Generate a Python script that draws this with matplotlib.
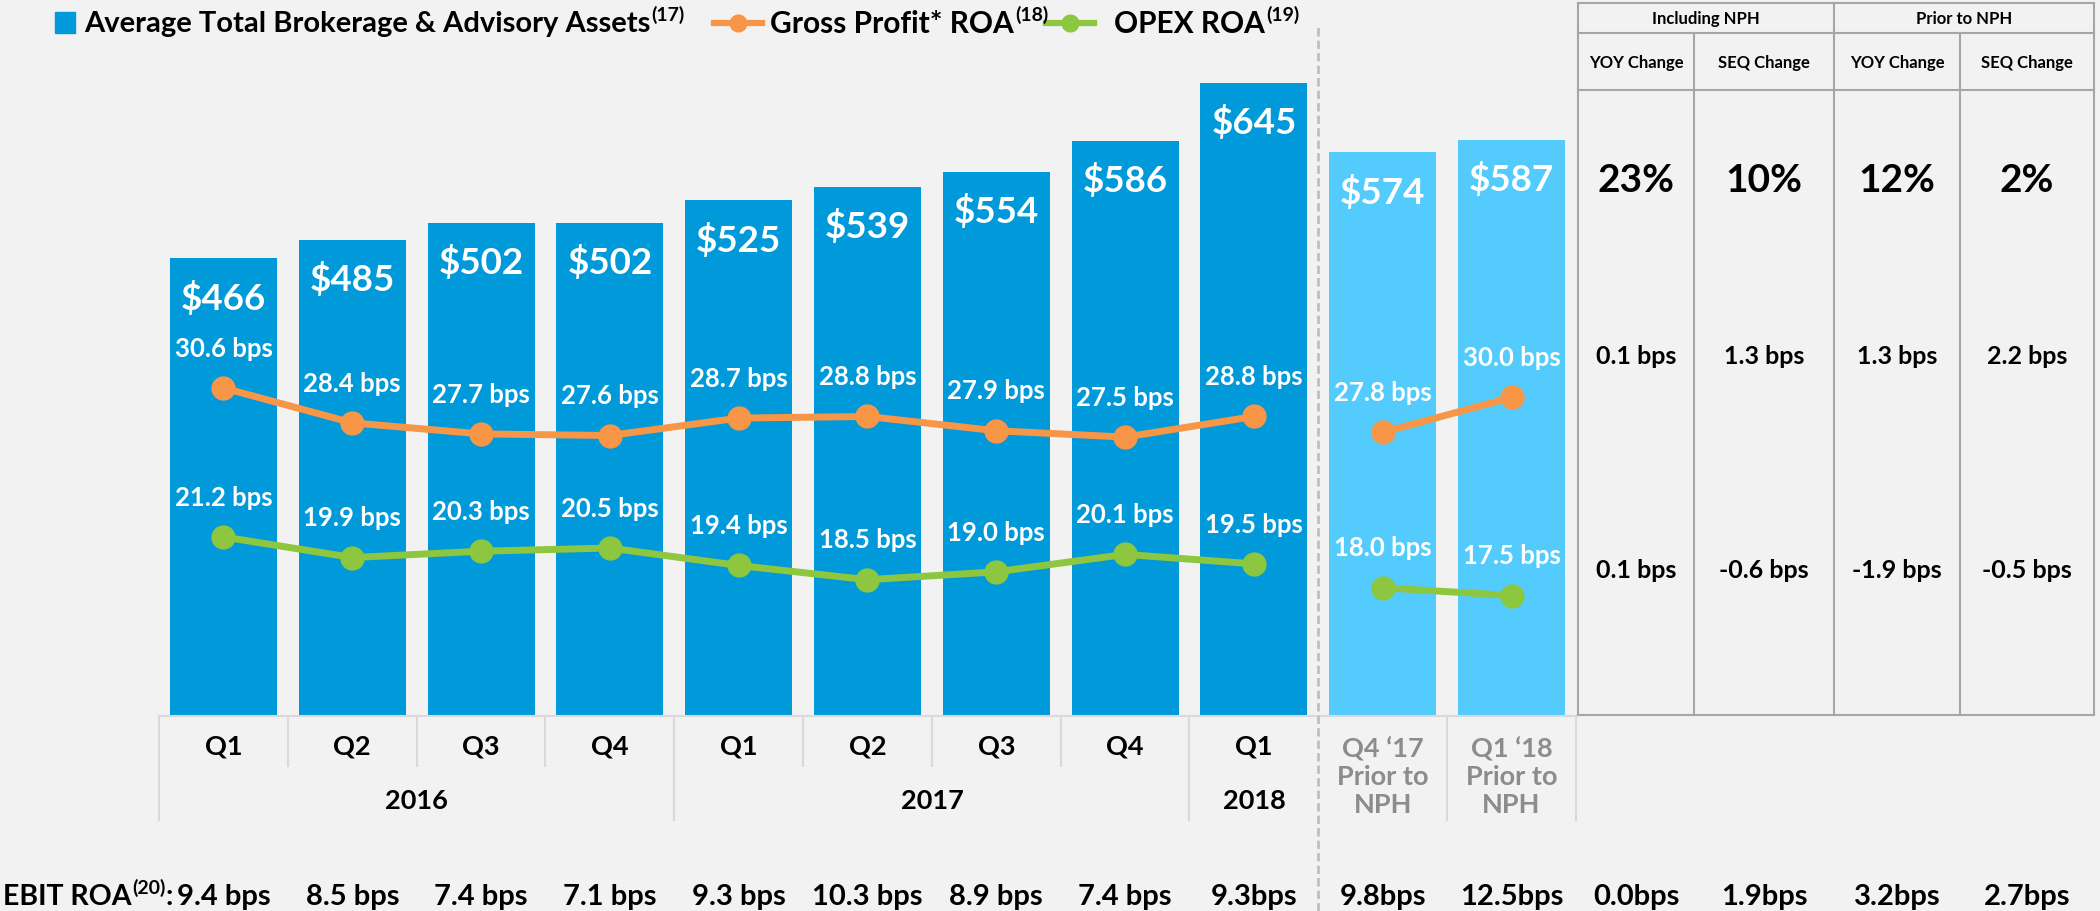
import matplotlib
matplotlib.use('Agg')
import matplotlib.pyplot as plt
import matplotlib.transforms as mtransforms
from matplotlib.lines import Line2D
from matplotlib.patches import Rectangle
import numpy as np

plt.rcParams['font.family'] = ['Lato', 'DejaVu Sans']
plt.rcParams['font.weight'] = 'bold'

W, H, DPI = 2100, 912, 100

# data
quarters = ['Q1', 'Q2', 'Q3', 'Q4', 'Q1', 'Q2', 'Q3', 'Q4', 'Q1']
years = ['2016', '2017', '2018']
year_spans = [(0, 3), (4, 7), (8, 8)]
nph_labels = ['Q4 \u201817\nPrior to\nNPH', 'Q1 \u201818\nPrior to\nNPH']
assets = [466, 485, 502, 502, 525, 539, 554, 586, 645, 574, 587]
gross_roa = [30.6, 28.4, 27.7, 27.6, 28.7, 28.8, 27.9, 27.5, 28.8, 27.8, 30.0]
opex_roa = [21.2, 19.9, 20.3, 20.5, 19.4, 18.5, 19.0, 20.1, 19.5, 18.0, 17.5]
ebit_roa = ['9.4 bps', '8.5 bps', '7.4 bps', '7.1 bps', '9.3 bps', '10.3 bps',
            '8.9 bps', '7.4 bps', '9.3bps', '9.8bps', '12.5bps']

tbl_groups = ['Including NPH', 'Prior to NPH']
tbl_cols = ['YOY Change', 'SEQ Change', 'YOY Change', 'SEQ Change']
chg_assets = ['23%', '10%', '12%', '2%']
chg_gross = ['0.1 bps', '1.3 bps', '1.3 bps', '2.2 bps']
chg_opex = ['0.1 bps', '-0.6 bps', '-1.9 bps', '-0.5 bps']
chg_ebit = ['0.0bps', '1.9bps', '3.2bps', '2.7bps']

# colours
BG = '#F2F2F2'
DARK = '#0099DA'
LIGHT = '#54CBFD'
ORANGE = '#F79646'
GREEN = '#8DC63F'
GRAY_TXT = '#8C8C8C'
SEP = '#D9D9D9'
TBL = '#A6A6A6'


def fx(px):
    return px / W


def fy(py):
    return 1 - py / H


fig = plt.figure(figsize=(W / DPI, H / DPI), dpi=DPI, facecolor=BG)
ax = fig.add_axes([0, 0, 1, 1])
ax.set_xlim(-1.735, 14.569)
ax.set_ylim(-200, 730.6)
ax.axis('off')
ax2 = ax.twinx()
ax2.set_ylim(-2.40, 55.14)
ax2.axis('off')

x = np.arange(len(assets))
n_main = len(quarters)
colors = [DARK] * n_main + [LIGHT] * (len(assets) - n_main)
ax.bar(x, assets, width=0.83, color=colors, zorder=2)

for xi, v in zip(x, assets):
    ax.annotate(f'${v}', (xi, v), xytext=(0, -28), textcoords='offset points',
                ha='center', va='center', color='white', fontsize=26.5, zorder=5)

for seg in (slice(0, n_main), slice(n_main, None)):
    ax2.plot(x[seg], gross_roa[seg], color=ORANGE, lw=5, marker='o', ms=16.5, zorder=4)
    ax2.plot(x[seg], opex_roa[seg], color=GREEN, lw=5, marker='o', ms=16.5, zorder=4)

for xi, g, o in zip(x, gross_roa, opex_roa):
    ax2.annotate(f'{g:.1f} bps', (xi, g), xytext=(0, 29), textcoords='offset points',
                 ha='center', va='center', color='white', fontsize=18.5, zorder=5)
    ax2.annotate(f'{o:.1f} bps', (xi, o), xytext=(0, 29), textcoords='offset points',
                 ha='center', va='center', color='white', fontsize=18.5, zorder=5)

# category axis
blend = mtransforms.blended_transform_factory(ax.transData, fig.transFigure)
ax.plot([-0.5, len(assets) - 0.5], [fy(717)] * 2, color=SEP, lw=1.5, transform=blend)
year_edges = [-0.5, 3.5, 7.5, 9.5, 10.5]
short_edges = [0.5, 1.5, 2.5, 4.5, 5.5, 6.5]
ax.vlines(short_edges, fy(768), fy(717), color=SEP, lw=1.5, transform=blend)
ax.vlines(year_edges, fy(822), fy(717), color=SEP, lw=1.5, transform=blend)
ax.vlines([8.5], 0, fy(28), color='#BFBFBF', lw=2, linestyles=(0, (3, 1.5)), transform=blend)

for xi, q in zip(x[:n_main], quarters):
    ax.text(xi, fy(747), q, transform=blend, ha='center', va='center', fontsize=19.5)
for (a, b), yr in zip(year_spans, years):
    ax.text((a + b) / 2, fy(801), yr, transform=blend, ha='center', va='center', fontsize=19.5)
for xi, lab in zip(x[n_main:], nph_labels):
    ax.text(xi, fy(777), lab, transform=blend, ha='center', va='center', fontsize=19.5,
            color=GRAY_TXT, linespacing=1.2)

renderer = fig.canvas.get_renderer()


def text_sup(x_px, y_px, main, sup, size, sup_size, tail=''):
    t = fig.text(fx(x_px), fy(y_px), main, ha='left', va='center', fontsize=size)
    bb = t.get_window_extent(renderer)
    s = fig.text(bb.x1 / W + fx(1), fy(y_px - size * 0.42), sup, ha='left', va='center',
                 fontsize=sup_size)
    end = s.get_window_extent(renderer).x1
    if tail:
        tl = fig.text(end / W, fy(y_px), tail, ha='left', va='center', fontsize=size)
        end = tl.get_window_extent(renderer).x1
    return end


def legend_line(x0, color):
    fig.add_artist(Line2D([fx(x0), fx(x0 + 48)], [fy(24)] * 2, color=color, lw=4.5,
                          transform=fig.transFigure))
    fig.add_artist(Line2D([fx(x0 + 24)], [fy(24)], color=color, marker='o', ms=12,
                          transform=fig.transFigure))


# legend
fig.add_artist(Rectangle((fx(55), fy(34)), 20 / W, 21 / H, transform=fig.transFigure,
                         color=DARK))
text_sup(84, 24, 'Average Total Brokerage & Advisory Assets', '(17)', 21, 14)
legend_line(714, ORANGE)
text_sup(770, 24, 'Gross Profit* ROA', '(18)', 21.5, 14)
legend_line(1046, GREEN)
text_sup(1114, 24, 'OPEX ROA', '(19)', 21.5, 14)

# table
col_x = [1578, 1694, 1834, 1960, 2094]
row_y = [4, 34, 91, 716]
for yy in row_y:
    fig.add_artist(Line2D([fx(col_x[0]), fx(col_x[-1])], [fy(yy)] * 2, color=TBL, lw=1.5,
                          transform=fig.transFigure))
for i, xx in enumerate(col_x):
    top = row_y[1] if i in (1, 3) else row_y[0]
    fig.add_artist(Line2D([fx(xx)] * 2, [fy(top), fy(row_y[-1])], color=TBL, lw=1.5,
                          transform=fig.transFigure))
for g, lab in enumerate(tbl_groups):
    cx = (col_x[2 * g] + col_x[2 * g + 2]) / 2
    fig.text(fx(cx), fy(19), lab, ha='center', va='center', fontsize=12)
centers = [(col_x[i] + col_x[i + 1]) / 2 for i in range(4)]
for cx, lab, a, gr, op, eb in zip(centers, tbl_cols, chg_assets, chg_gross, chg_opex, chg_ebit):
    fig.text(fx(cx), fy(63), lab, ha='center', va='center', fontsize=12)
    fig.text(fx(cx), fy(180), a, ha='center', va='center', fontsize=28)
    fig.text(fx(cx), fy(357), gr, ha='center', va='center', fontsize=18)
    fig.text(fx(cx), fy(570), op, ha='center', va='center', fontsize=18)
    fig.text(fx(cx), fy(897), eb, ha='center', va='center', fontsize=21)

# EBIT row
text_sup(3, 897, 'EBIT ROA', '(20)', 20.5, 14, tail=':')
for xi, e in zip(x, ebit_roa):
    ax.text(xi, fy(897), e, transform=blend, ha='center', va='center', fontsize=21)

fig.savefig('out.png', dpi=DPI, facecolor=BG)
